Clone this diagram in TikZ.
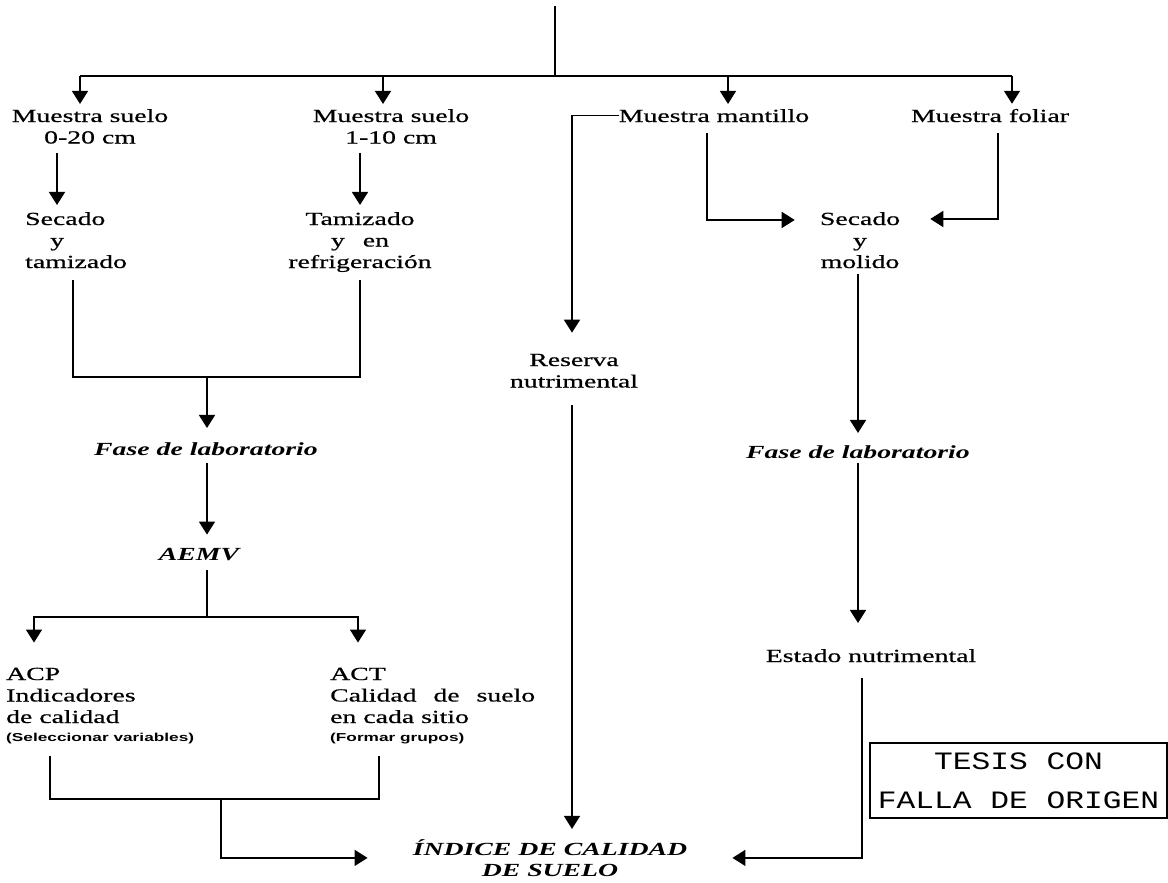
\documentclass[tikz,border=0pt]{standalone}
\usepackage{fontspec}
\usetikzlibrary{arrows.meta}
\newfontfamily\tf[FakeStretch=1.5,FakeBold=0.6]{Liberation Serif}
\newfontfamily\tfbi[FakeStretch=1.5]{Liberation Serif Bold Italic}
\newfontfamily\sfb[FakeStretch=1.5]{Liberation Sans Bold}
\newfontfamily\stampf[FakeStretch=1.25]{Liberation Mono}
\begin{document}
\begin{tikzpicture}[x=1pt,y=-1pt,
  txt/.style={font=\fontsize{18.5}{21.5}\tf, inner sep=0pt},
  bi/.style={font=\fontsize{18.5}{21.5}\tfbi, inner sep=0pt},
  ln/.style={line width=1.6pt},
  arr/.style={ln, -{Triangle[width=16pt,length=13pt]}}]
\useasboundingbox (0,0) rectangle (1168,883);

% nodes (anchor base = baseline of the last line)
\node[txt, anchor=base, align=center] (ms1) at (90,143.5) {Muestra suelo\\0-20 cm};
\node[txt, anchor=base, align=center] (ms2) at (391,143.5) {Muestra suelo\\1-10 cm};
\node[txt, anchor=base] (mm) at (714,122) {Muestra mantillo};
\node[txt, anchor=base] (mf) at (990,122) {Muestra foliar};
\node[txt, anchor=base west, align=left] (sec1) at (25,268) {Secado\\\hspace*{25pt}y\\tamizado};
\node[txt, anchor=base, align=center] (tam) at (360,268) {Tamizado\\y\hspace{18pt}en\\refrigeración};
\node[txt, anchor=base, align=center] (sm) at (860,268) {Secado\\y\\molido};
\node[txt, anchor=base, align=center] (res) at (574,387.5) {Reserva\\nutrimental};
\node[bi, anchor=base] (fl1) at (206,455) {Fase de laboratorio};
\node[bi, anchor=base] (fl2) at (858,458) {Fase de laboratorio};
\node[bi, anchor=base] (aemv) at (199,560) {AEMV};
\node[txt, anchor=base west, align=left] (acp) at (6,741) {ACP\\Indicadores\\de calidad\\[-3.5pt]{\fontsize{11.5}{14}\sfb (Seleccionar variables)}};
\node[txt, anchor=base west, align=left] (act) at (330,741) {ACT\\Calidad\hspace{10pt} de\hspace{10pt} suelo\\en cada sitio\\[-3.5pt]{\fontsize{11.5}{14}\sfb (Formar grupos)}};
\node[txt, anchor=base] (est) at (871,662) {Estado nutrimental};
\node[bi, anchor=base, align=center] (ice) at (550,876.5) {ÍNDICE DE CALIDAD\\DE SUELO};
\node[draw, line width=1.2pt, minimum width=297pt, minimum height=75pt, inner sep=0pt,
      align=center, font=\fontsize{25}{39}\stampf] (stamp) at (1018.5,780.5) {TESIS CON\\FALLA DE ORIGEN};

% coordinates
\coordinate (t0) at (555,6);
\coordinate (h0) at (555,76);
\coordinate (hA) at (80,76);
\coordinate (hB) at (383,76);
\coordinate (hC) at (728,76);
\coordinate (hD) at (1012,76);
\coordinate (xA) at (57,0);
\coordinate (xB) at (360,0);
\coordinate (xL) at (73,0);
\coordinate (j1) at (207,377);
\coordinate (j2) at (207,617);
\coordinate (xP) at (34,0);
\coordinate (xT) at (358,0);
\coordinate (xP2) at (50,0);
\coordinate (xT2) at (379,0);
\coordinate (j3) at (221,799);
\coordinate (xres) at (572,0);
\coordinate (xmm) at (707,0);
\coordinate (xmf) at (998,0);
\coordinate (xsm) at (858,0);
\coordinate (xest) at (862,0);

% connectors
\draw[ln] (t0) -- (h0);
\draw[ln] (hA) -- (hD);
\draw[arr, shorten >=5pt] (hA) -- (hA |- ms1.north);
\draw[arr, shorten >=5pt] (hB) -- (hB |- ms2.north);
\draw[arr, shorten >=5pt] (hC) -- (hC |- mm.north);
\draw[arr, shorten >=5pt] (hD) -- (hD |- mf.north);

\draw[arr, shorten <=9pt, shorten >=7pt] (xA |- ms1.south) -- (xA |- sec1.north);
\draw[arr, shorten <=9pt, shorten >=7pt] (xB |- ms2.south) -- (xB |- tam.north);
\draw[ln, shorten <=12pt, shorten >=8pt] (xL |- sec1.south) |- (j1) -| (xB |- tam.south);
\draw[arr, shorten >=14pt] (j1) -- (j1 |- fl1.north);
\draw[arr, shorten <=8pt, shorten >=13pt] (j1 |- fl1.south) -- (j1 |- aemv.north);
\draw[ln, shorten <=10pt] (j2 |- aemv.south) -- (j2);
\draw[arr, shorten >=25pt] (j2) -| (xP |- acp.north);
\draw[arr, shorten >=25pt] (j2) -| (xT |- act.north);
\draw[ln, shorten <=12pt, shorten >=12pt] (xP2 |- acp.south) |- (j3) -| (xT2 |- act.south);
\draw[arr, shorten >=45pt] (j3) |- (ice.west);

\draw[arr, shorten >=21pt] (mm.west) -| (xres |- res.north);
\draw[arr, shorten <=17pt, shorten >=10pt] (xres |- res.south) -- (xres |- ice.north);

\draw[arr, shorten <=11pt, shorten >=25pt] (xmm |- mm.south) |- ([yshift=-8pt]sm.north west);
\draw[arr, shorten <=11pt, shorten >=30pt] (xmf |- mf.south) |- ([yshift=-7pt]sm.north east);
\draw[arr, shorten <=6pt, shorten >=12pt] (xsm |- sm.south) -- (xsm |- fl2.north);
\draw[arr, shorten <=5pt, shorten >=26pt] (xsm |- fl2.south) -- (xsm |- est.north);
\draw[arr, shorten <=16pt, shorten >=45pt] (xest |- est.south) |- (ice.east);
\end{tikzpicture}
\end{document}
